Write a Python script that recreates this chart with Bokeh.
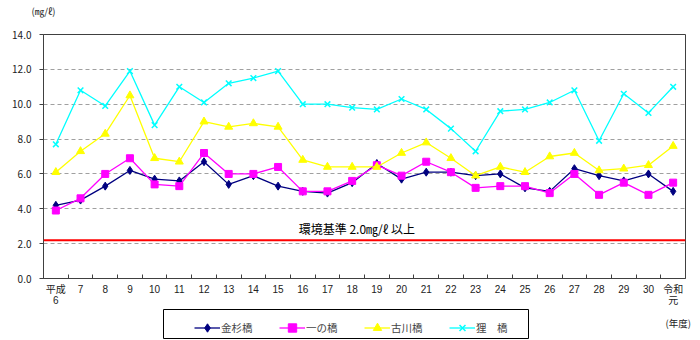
from bokeh.plotting import figure
from bokeh.layouts import column
from bokeh.models import (ColumnDataSource, FixedTicker, Legend, LegendItem, Label, Span, Range1d,
                          PrintfTickFormatter, LinearAxis)
from bokeh.embed import file_html
from bokeh.resources import INLINE

years = ["平成\n6", "7", "8", "9", "10", "11", "12", "13", "14", "15", "16", "17", "18",
         "19", "20", "21", "22", "23", "24", "25", "26", "27", "28", "29", "30", "令和\n元"]
kanasugi = [4.2, 4.5, 5.3, 6.2, 5.7, 5.6, 6.7, 5.4, 5.9, 5.3, 5.0, 4.9, 5.5,
            6.6, 5.7, 6.1, 6.1, 5.9, 6.0, 5.2, 5.0, 6.3, 5.9, 5.6, 6.0, 5.0]
ichinohashi = [3.9, 4.6, 6.0, 6.9, 5.4, 5.3, 7.2, 6.0, 6.0, 6.4, 5.0, 5.0, 5.6,
               6.5, 5.9, 6.7, 6.1, 5.2, 5.3, 5.3, 4.9, 6.0, 4.8, 5.5, 4.8, 5.5]
furukawa = [6.1, 7.3, 8.3, 10.5, 6.9, 6.7, 9.0, 8.7, 8.9, 8.7, 6.8, 6.4, 6.4,
            6.4, 7.2, 7.8, 6.9, 5.9, 6.4, 6.1, 7.0, 7.2, 6.2, 6.3, 6.5, 7.6]
tanuki = [7.7, 10.8, 9.9, 11.9, 8.8, 11.0, 10.1, 11.2, 11.5, 11.9, 10.0, 10.0, 9.8,
          9.7, 10.3, 9.7, 8.6, 7.3, 9.6, 9.7, 10.1, 10.8, 7.9, 10.6, 9.5, 11.0]
series_names = ["金杉橋", "一の橋", "古川橋", "狸　橋"]
y_ticks = [0, 2, 4, 6, 8, 10, 12, 14]
standard_level = 2.2
standard_text = "環境基準  2.0㎎/ℓ  以上"
unit_text = "(㎎/ℓ)"
year_unit_text = "(年度)"

FONT = "Noto Sans CJK JP"
XFONT = "Liberation Sans, Noto Sans CJK JP"
x = list(range(len(years)))
src = ColumnDataSource(dict(x=x, a=kanasugi, b=ichinohashi, c=furukawa, d=tanuki))

p = figure(width=700, height=309, output_backend="svg", toolbar_location=None,
           x_range=Range1d(-0.5, len(years) - 0.5), y_range=Range1d(0, 14),
           min_border_left=43, min_border_right=15, min_border_top=34, min_border_bottom=31)
p.frame_align = False
p.outline_line_color = "#404040"
p.outline_line_width = 1
p.background_fill_color = "white"
p.border_fill_color = "white"

# bottom (category) axis
xa = p.below[0]
xa.ticker = FixedTicker(ticks=x, minor_ticks=[i + 0.5 for i in x[:-1]])
xa.major_label_overrides = {i: years[i] for i in x}
xa.major_tick_line_color = None
xa.major_tick_in = 0
xa.major_tick_out = 0
xa.minor_tick_in = 4
xa.minor_tick_out = 0
xa.minor_tick_line_color = "#404040"
xa.axis_line_color = "#404040"
xa.major_label_text_font = XFONT
xa.major_label_text_font_size = "10px"
xa.major_label_text_color = "#222222"
xa.major_label_text_line_height = 1.0
xa.major_label_standoff = 5

# left axis
ya = p.left[0]
ya.ticker = FixedTicker(ticks=y_ticks)
ya.formatter = PrintfTickFormatter(format="%.1f")
ya.minor_tick_line_color = None
ya.major_tick_in = 0
ya.major_tick_out = 4
ya.major_tick_line_color = "#404040"
ya.axis_line_color = "#404040"
ya.major_label_text_font = FONT
ya.major_label_text_font_size = "10px"
ya.major_label_text_color = "#222222"
ya.major_label_standoff = 8

# unit text above the y axis (an axis with a single tick at the frame's left edge)
unit_axis = LinearAxis(ticker=FixedTicker(ticks=[-0.5], minor_ticks=[]),
                       major_label_overrides={-0.5: unit_text},
                       axis_line_color=None, major_tick_line_color=None, minor_tick_line_color=None,
                       major_label_standoff=11, major_label_text_align="right",
                       major_label_text_font=FONT, major_label_text_font_size="9.5px",
                       major_label_text_color="#222222")
p.add_layout(unit_axis, "above")

p.xgrid.grid_line_color = None
p.ygrid.ticker = FixedTicker(ticks=y_ticks[1:-1])
p.ygrid.grid_line_color = "#a0a0a0"
p.ygrid.grid_line_dash = "4 3"
p.ygrid.grid_line_width = 1

# standard line
p.add_layout(Span(location=standard_level, dimension="width", line_color="#ff0000", line_width=2))
p.add_layout(Label(x=12.3, y=standard_level, text=standard_text, text_align="center",
                   text_baseline="bottom", y_offset=3, text_font=FONT, text_font_size="12px",
                   text_color="#000000"))

colors = ["#000080", "#ff00ff", "#ffff00", "#00ffff"]
cols = ["a", "b", "c", "d"]
markers = ["diamond", "square", "triangle", "x"]
sizes = [8, 7, 8, 8]

# legend strip (its frame is the legend box)
lg = figure(width=700, height=31, output_backend="svg", toolbar_location=None,
            x_range=Range1d(0, 1), y_range=Range1d(0, 29),
            min_border_left=163, min_border_right=172, min_border_top=0, min_border_bottom=2)
lg.frame_align = False
lg.outline_line_color = "#000000"
lg.outline_line_width = 1
lg.xaxis.visible = False
lg.yaxis.visible = False
lg.grid.visible = False

items = []
for name, col, color, mk, sz in zip(series_names, cols, colors, markers, sizes):
    r1 = p.line("x", col, source=src, line_color=color, line_width=1.3)
    r2 = p.scatter("x", col, source=src, marker=mk, size=sz, fill_color=color,
                   line_color=color, line_width=1.5 if mk == "x" else 1)
    g1 = lg.line("x", col, source=src, line_color=color, line_width=1.3, visible=False)
    g2 = lg.scatter("x", col, source=src, marker=mk, size=sz, fill_color=color,
                    line_color=color, line_width=1.5 if mk == "x" else 1, visible=False)
    items.append(LegendItem(label=name, renderers=[g1, g2]))

legend = Legend(items=items, orientation="horizontal", location=(31, 0),
                border_line_color=None, background_fill_alpha=0, padding=4, spacing=14,
                glyph_width=26, glyph_height=21, label_height=21, label_standoff=1, label_width=44,
                label_text_font=FONT, label_text_font_size="10.5px", margin=0,
                click_policy="none")
lg.add_layout(legend, "center")

# "(年度)" placed via a right-hand axis of the legend strip
yr_axis = LinearAxis(ticker=FixedTicker(ticks=[16], minor_ticks=[]),
                     major_label_overrides={16: year_unit_text},
                     axis_line_color=None, major_tick_line_color=None, minor_tick_line_color=None,
                     major_label_standoff=131, major_label_text_font=FONT,
                     major_label_text_font_size="9.5px", major_label_text_color="#222222")
lg.add_layout(yr_axis, "right")

layout = column(p, lg, spacing=0)
open("out.html", "w").write(file_html(layout, INLINE))
